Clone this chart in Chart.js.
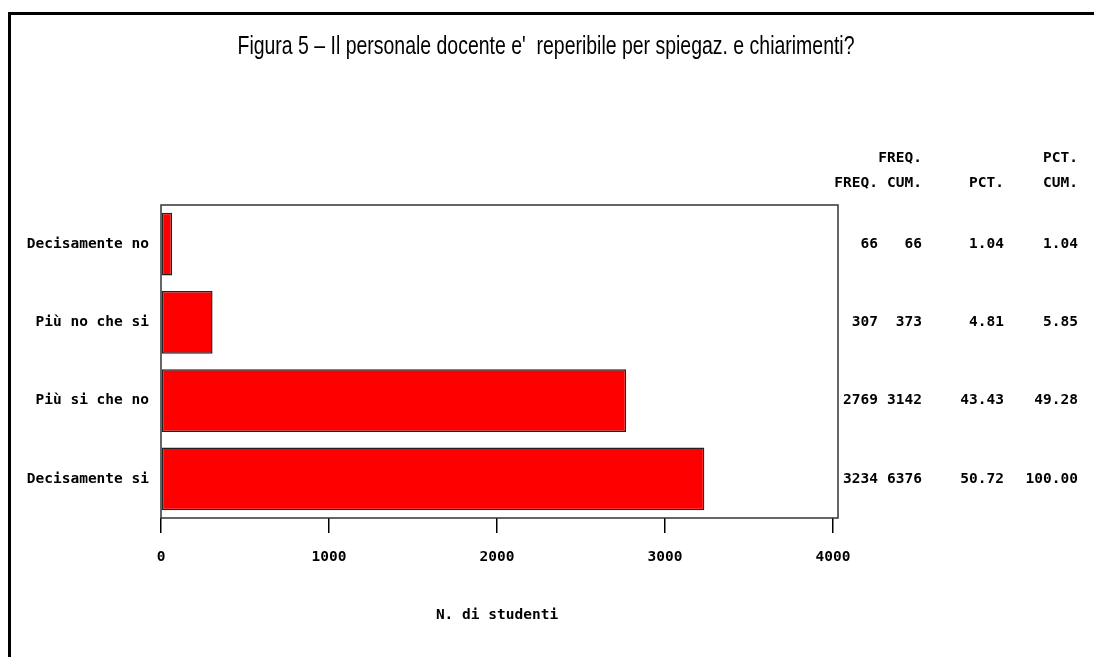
<!DOCTYPE html>
<html>
<head>
<meta charset="utf-8">
<style>
  html, body { margin: 0; padding: 0; background: #fff; }
  canvas { display: block; }
</style>
<script src="https://cdn.jsdelivr.net/npm/chart.js@4.4.1/dist/chart.umd.min.js"></script>
</head>
<body>
<canvas id="figChart" width="1094" height="657"></canvas>
<script>
// data
const categories = ['Decisamente no', 'Più no che si', 'Più si che no', 'Decisamente si'];
const freq = [66, 307, 2769, 3234];
const freqCum = [66, 373, 3142, 6376];
const pct = ['1.04', '4.81', '43.43', '50.72'];
const pctCum = ['1.04', '5.85', '49.28', '100.00'];
const xTicks = [0, 1000, 2000, 3000, 4000];
const tableHeads = [['', 'FREQ.'], ['FREQ.', 'CUM.'], ['', 'PCT.'], ['PCT.', 'CUM.']];
const titleText = "Figura 5 \u2013 Il personale docente e'  reperibile per spiegaz. e chiarimenti?";
const axisTitle = 'N. di studenti';

const monoFont = { family: "'DejaVu Sans Mono', 'Liberation Mono', monospace", size: 14.5, weight: 'bold' };
const monoCss = 'bold 14.5px ' + monoFont.family;

// white page + the black border on the left and top
const pageFrame = {
  id: 'pageFrame',
  beforeDraw(chart) {
    const ctx = chart.ctx;
    ctx.save();
    ctx.fillStyle = '#fff';
    ctx.fillRect(0, 0, chart.width, chart.height);
    ctx.strokeStyle = '#000';
    ctx.lineWidth = 3;
    ctx.beginPath();
    ctx.moveTo(9.5, chart.height);
    ctx.lineTo(9.5, 13.5);
    ctx.lineTo(chart.width, 13.5);
    ctx.stroke();
    ctx.restore();
  }
};

// plot frame, title and the frequency table on the right
const extras = {
  id: 'extras',
  afterDatasetsDraw(chart) {
    const ctx = chart.ctx;
    const a = chart.chartArea;
    ctx.save();
    ctx.strokeStyle = '#333';
    ctx.lineWidth = 1.5;
    ctx.strokeRect(a.left, a.top, a.right + 5 - a.left, a.bottom - a.top);
    ctx.restore();
  },
  afterDraw(chart) {
    const ctx = chart.ctx;
    const y = chart.scales.y;
    ctx.save();
    // title, narrow and tall like the original
    ctx.font = "22px 'Liberation Sans', Arial, sans-serif";
    ctx.fillStyle = '#000';
    ctx.textBaseline = 'middle';
    ctx.textAlign = 'center';
    const w = ctx.measureText(titleText).width;
    ctx.translate(546, 47);
    ctx.scale(617 / w, 1.2);
    ctx.fillText(titleText, 0, 0);
    ctx.restore();

    // table
    ctx.save();
    ctx.font = monoCss;
    ctx.fillStyle = '#000';
    ctx.textAlign = 'right';
    ctx.textBaseline = 'middle';
    const colRight = [878, 922, 1004, 1078];
    tableHeads.forEach((h, i) => {
      ctx.fillText(h[0], colRight[i], 158);
      ctx.fillText(h[1], colRight[i], 183);
    });
    const cols = [freq, freqCum, pct, pctCum];
    categories.forEach((c, r) => {
      const py = y.getPixelForValue(r);
      cols.forEach((col, i) => ctx.fillText(String(col[r]), colRight[i], py));
    });
    ctx.restore();
  }
};

new Chart(document.getElementById('figChart'), {
  type: 'bar',
  data: {
    labels: categories,
    datasets: [{
      data: freq,
      backgroundColor: '#ff0000',
      borderColor: '#222',
      borderWidth: 1.5,
      borderSkipped: false,
      barPercentage: 0.8,
      categoryPercentage: 1
    }]
  },
  options: {
    indexAxis: 'y',
    responsive: false,
    animation: false,
    devicePixelRatio: 1,
    layout: { padding: { left: 0, right: 261, top: 205, bottom: 0 } },
    plugins: {
      legend: { display: false },
      tooltip: { enabled: false }
    },
    scales: {
      x: {
        min: 0,
        max: 4000,
        afterBuildTicks: (s) => { s.ticks = xTicks.map(v => ({ value: v })); },
        afterFit: (s) => { s.height = 139; },
        border: { display: false },
        grid: { drawOnChartArea: false, drawTicks: true, tickLength: 15, color: '#000', lineWidth: 1.5 },
        ticks: { color: '#000', font: monoFont, padding: 16, maxRotation: 0, callback: (v) => String(v) },
        title: { display: true, text: axisTitle, color: '#000', font: monoFont, padding: { top: 0, bottom: 33 } }
      },
      y: {
        afterFit: (s) => { s.width = 161; },
        border: { display: false },
        grid: { display: false },
        ticks: { color: '#000', font: monoFont, padding: 4 }
      }
    }
  },
  plugins: [pageFrame, extras]
});
</script>
</body>
</html>
